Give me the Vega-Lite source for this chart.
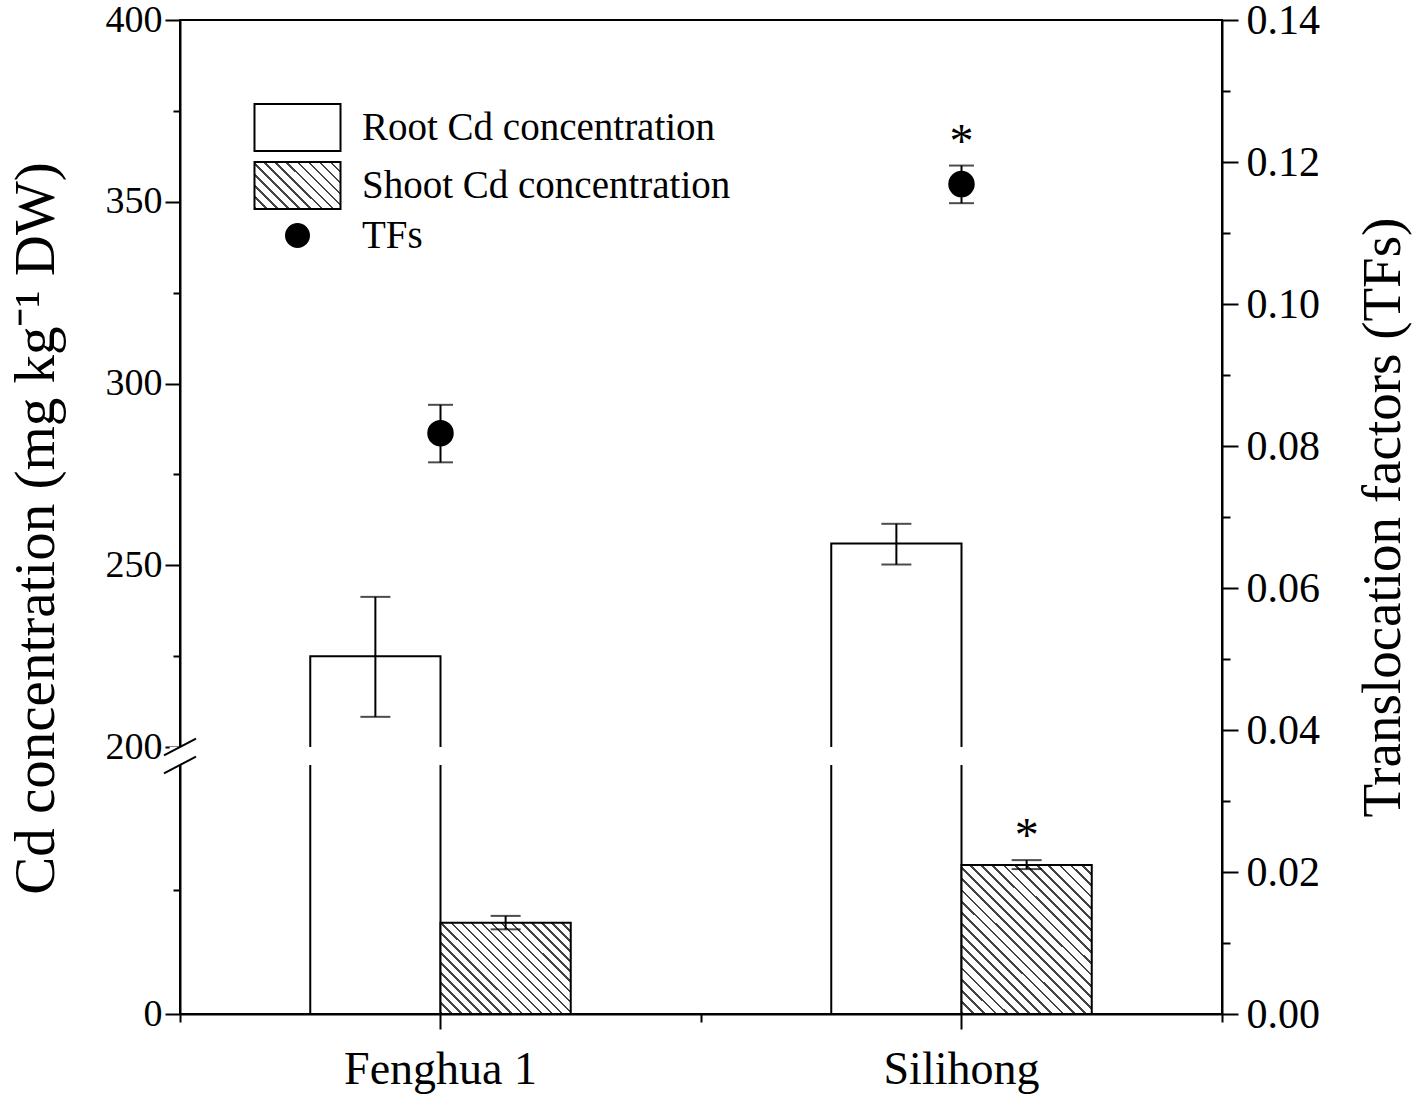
{
  "$schema": "https://vega.github.io/schema/vega-lite/v6.json",
  "width": 1042,
  "height": 994,
  "autosize": {"type": "none"},
  "padding": {"left": 180, "top": 20, "right": 196, "bottom": 82},
  "background": "white",
  "config": {
    "font": "Liberation Serif",
    "view": {"stroke": "black", "strokeWidth": 2},
    "axis": {"domainColor": "black", "tickColor": "black", "labelColor": "black", "titleColor": "black", "domainWidth": 2, "tickWidth": 2, "grid": false, "labelFont": "Liberation Serif", "titleFont": "Liberation Serif", "titleFontWeight": "normal"},
    "legend": {"labelFont": "Liberation Serif", "labelColor": "black"}
  },
  "datasets": {
    "cd": [
      {"cultivar": "Fenghua 1", "part": "Root", "mean": 225, "lo": 208.3, "hi": 241.3, "sig": ""},
      {"cultivar": "Fenghua 1", "part": "Shoot", "mean": 18.3, "lo": 17.0, "hi": 19.7, "sig": ""},
      {"cultivar": "Silihong", "part": "Root", "mean": 256, "lo": 250.2, "hi": 261.4, "sig": ""},
      {"cultivar": "Silihong", "part": "Shoot", "mean": 29.9, "lo": 29.1, "hi": 30.9, "sig": "*"}
    ],
    "tf": [
      {"cultivar": "Fenghua 1", "series": "TFs", "tf": 0.0818, "lo": 0.0777, "hi": 0.0858, "sig": ""},
      {"cultivar": "Silihong", "series": "TFs", "tf": 0.1169, "lo": 0.1142, "hi": 0.1195, "sig": "*"}
    ],
    "brk": [{"from": 50, "to": 200}]
  },
  "layer": [
    {
      "data": {"name": "cd"},
      "transform": [{"filter": "datum.part === 'Root'"}],
      "mark": {"type": "bar", "fill": "white", "stroke": "black", "strokeWidth": 2},
      "encoding": {
        "x": {"field": "cultivar", "type": "nominal", "scale": {"domain": ["Fenghua 1", "Silihong"], "paddingInner": 0, "paddingOuter": 0},
              "axis": {"orient": "bottom", "title": null, "labelFontSize": 46, "labelAngle": 0, "labelLimit": 1000, "tickSize": 15, "labelPadding": 18, "zindex": 1}},
        "xOffset": {"field": "part", "type": "nominal", "scale": {"domain": ["Root", "Shoot"], "paddingInner": 0, "paddingOuter": 1}},
        "y": {"field": "mean", "type": "quantitative", "scale": {"domain": [0, 50, 200, 400], "range": [994, 745, 727, 0], "nice": false, "zero": false},
              "axis": {"orient": "left", "values": [0, 200, 250, 300, 350, 400], "title": "Cd concentration (mg kg⁻¹ DW)", "titleFontSize": 57, "titleY": 508, "labelFontSize": 38, "tickSize": 15, "labelPadding": 3, "titlePadding": 40, "zindex": 0}}
      }
    },
    {
      "data": {"name": "cd"},
      "transform": [{"filter": "datum.part === 'Shoot' && datum.cultivar === 'Fenghua 1'"}],
      "mark": {"type": "bar", "stroke": "black", "strokeWidth": 2,
        "fill": {"gradient": "linear", "x1": 0, "y1": 1, "x2": 1.296, "y2": 0.092, "stops": [
{"offset":0,"color":"#444"},{"offset":0.01,"color":"#444"},{"offset":0.01,"color":"#fff"},{"offset":0.04,"color":"#fff"},
{"offset":0.04,"color":"#444"},{"offset":0.05,"color":"#444"},{"offset":0.05,"color":"#fff"},{"offset":0.08,"color":"#fff"},
{"offset":0.08,"color":"#444"},{"offset":0.09,"color":"#444"},{"offset":0.09,"color":"#fff"},{"offset":0.12,"color":"#fff"},
{"offset":0.12,"color":"#444"},{"offset":0.13,"color":"#444"},{"offset":0.13,"color":"#fff"},{"offset":0.16,"color":"#fff"},
{"offset":0.16,"color":"#444"},{"offset":0.17,"color":"#444"},{"offset":0.17,"color":"#fff"},{"offset":0.2,"color":"#fff"},
{"offset":0.2,"color":"#444"},{"offset":0.21,"color":"#444"},{"offset":0.21,"color":"#fff"},{"offset":0.24,"color":"#fff"},
{"offset":0.24,"color":"#444"},{"offset":0.25,"color":"#444"},{"offset":0.25,"color":"#fff"},{"offset":0.28,"color":"#fff"},
{"offset":0.28,"color":"#444"},{"offset":0.29,"color":"#444"},{"offset":0.29,"color":"#fff"},{"offset":0.32,"color":"#fff"},
{"offset":0.32,"color":"#444"},{"offset":0.33,"color":"#444"},{"offset":0.33,"color":"#fff"},{"offset":0.36,"color":"#fff"},
{"offset":0.36,"color":"#444"},{"offset":0.37,"color":"#444"},{"offset":0.37,"color":"#fff"},{"offset":0.4,"color":"#fff"},
{"offset":0.4,"color":"#444"},{"offset":0.41,"color":"#444"},{"offset":0.41,"color":"#fff"},{"offset":0.44,"color":"#fff"},
{"offset":0.44,"color":"#444"},{"offset":0.45,"color":"#444"},{"offset":0.45,"color":"#fff"},{"offset":0.48,"color":"#fff"},
{"offset":0.48,"color":"#444"},{"offset":0.49,"color":"#444"},{"offset":0.49,"color":"#fff"},{"offset":0.52,"color":"#fff"},
{"offset":0.52,"color":"#444"},{"offset":0.53,"color":"#444"},{"offset":0.53,"color":"#fff"},{"offset":0.56,"color":"#fff"},
{"offset":0.56,"color":"#444"},{"offset":0.57,"color":"#444"},{"offset":0.57,"color":"#fff"},{"offset":0.6,"color":"#fff"},
{"offset":0.6,"color":"#444"},{"offset":0.61,"color":"#444"},{"offset":0.61,"color":"#fff"},{"offset":0.64,"color":"#fff"},
{"offset":0.64,"color":"#444"},{"offset":0.65,"color":"#444"},{"offset":0.65,"color":"#fff"},{"offset":0.68,"color":"#fff"},
{"offset":0.68,"color":"#444"},{"offset":0.69,"color":"#444"},{"offset":0.69,"color":"#fff"},{"offset":0.72,"color":"#fff"},
{"offset":0.72,"color":"#444"},{"offset":0.73,"color":"#444"},{"offset":0.73,"color":"#fff"},{"offset":0.76,"color":"#fff"},
{"offset":0.76,"color":"#444"},{"offset":0.77,"color":"#444"},{"offset":0.77,"color":"#fff"},{"offset":0.8,"color":"#fff"},
{"offset":0.8,"color":"#444"},{"offset":0.81,"color":"#444"},{"offset":0.81,"color":"#fff"},{"offset":0.84,"color":"#fff"},
{"offset":0.84,"color":"#444"},{"offset":0.85,"color":"#444"},{"offset":0.85,"color":"#fff"},{"offset":0.88,"color":"#fff"},
{"offset":0.88,"color":"#444"},{"offset":0.89,"color":"#444"},{"offset":0.89,"color":"#fff"},{"offset":0.92,"color":"#fff"},
{"offset":0.92,"color":"#444"},{"offset":0.93,"color":"#444"},{"offset":0.93,"color":"#fff"},{"offset":0.96,"color":"#fff"},
{"offset":0.96,"color":"#444"},{"offset":0.97,"color":"#444"},{"offset":0.97,"color":"#fff"},{"offset":1,"color":"#fff"}
        ]}},
      "encoding": {
        "x": {"field": "cultivar", "type": "nominal", "scale": {"domain": ["Fenghua 1", "Silihong"], "paddingInner": 0, "paddingOuter": 0}, "axis": null},
        "xOffset": {"field": "part", "type": "nominal", "scale": {"domain": ["Root", "Shoot"], "paddingInner": 0, "paddingOuter": 1}},
        "y": {"field": "mean", "type": "quantitative", "scale": {"domain": [0, 50, 200, 400], "range": [994, 745, 727, 0], "nice": false, "zero": false}, "axis": null}
      }
    },
    {
      "data": {"name": "cd"},
      "transform": [{"filter": "datum.part === 'Shoot' && datum.cultivar === 'Silihong'"}],
      "mark": {"type": "bar", "stroke": "black", "strokeWidth": 2,
        "fill": {"gradient": "linear", "x1": 0, "y1": 1, "x2": 0.927, "y2": -0.063, "stops": [
{"offset":0,"color":"#444"},{"offset":0.01,"color":"#444"},{"offset":0.01,"color":"#fff"},{"offset":0.04,"color":"#fff"},
{"offset":0.04,"color":"#444"},{"offset":0.05,"color":"#444"},{"offset":0.05,"color":"#fff"},{"offset":0.08,"color":"#fff"},
{"offset":0.08,"color":"#444"},{"offset":0.09,"color":"#444"},{"offset":0.09,"color":"#fff"},{"offset":0.12,"color":"#fff"},
{"offset":0.12,"color":"#444"},{"offset":0.13,"color":"#444"},{"offset":0.13,"color":"#fff"},{"offset":0.16,"color":"#fff"},
{"offset":0.16,"color":"#444"},{"offset":0.17,"color":"#444"},{"offset":0.17,"color":"#fff"},{"offset":0.2,"color":"#fff"},
{"offset":0.2,"color":"#444"},{"offset":0.21,"color":"#444"},{"offset":0.21,"color":"#fff"},{"offset":0.24,"color":"#fff"},
{"offset":0.24,"color":"#444"},{"offset":0.25,"color":"#444"},{"offset":0.25,"color":"#fff"},{"offset":0.28,"color":"#fff"},
{"offset":0.28,"color":"#444"},{"offset":0.29,"color":"#444"},{"offset":0.29,"color":"#fff"},{"offset":0.32,"color":"#fff"},
{"offset":0.32,"color":"#444"},{"offset":0.33,"color":"#444"},{"offset":0.33,"color":"#fff"},{"offset":0.36,"color":"#fff"},
{"offset":0.36,"color":"#444"},{"offset":0.37,"color":"#444"},{"offset":0.37,"color":"#fff"},{"offset":0.4,"color":"#fff"},
{"offset":0.4,"color":"#444"},{"offset":0.41,"color":"#444"},{"offset":0.41,"color":"#fff"},{"offset":0.44,"color":"#fff"},
{"offset":0.44,"color":"#444"},{"offset":0.45,"color":"#444"},{"offset":0.45,"color":"#fff"},{"offset":0.48,"color":"#fff"},
{"offset":0.48,"color":"#444"},{"offset":0.49,"color":"#444"},{"offset":0.49,"color":"#fff"},{"offset":0.52,"color":"#fff"},
{"offset":0.52,"color":"#444"},{"offset":0.53,"color":"#444"},{"offset":0.53,"color":"#fff"},{"offset":0.56,"color":"#fff"},
{"offset":0.56,"color":"#444"},{"offset":0.57,"color":"#444"},{"offset":0.57,"color":"#fff"},{"offset":0.6,"color":"#fff"},
{"offset":0.6,"color":"#444"},{"offset":0.61,"color":"#444"},{"offset":0.61,"color":"#fff"},{"offset":0.64,"color":"#fff"},
{"offset":0.64,"color":"#444"},{"offset":0.65,"color":"#444"},{"offset":0.65,"color":"#fff"},{"offset":0.68,"color":"#fff"},
{"offset":0.68,"color":"#444"},{"offset":0.69,"color":"#444"},{"offset":0.69,"color":"#fff"},{"offset":0.72,"color":"#fff"},
{"offset":0.72,"color":"#444"},{"offset":0.73,"color":"#444"},{"offset":0.73,"color":"#fff"},{"offset":0.76,"color":"#fff"},
{"offset":0.76,"color":"#444"},{"offset":0.77,"color":"#444"},{"offset":0.77,"color":"#fff"},{"offset":0.8,"color":"#fff"},
{"offset":0.8,"color":"#444"},{"offset":0.81,"color":"#444"},{"offset":0.81,"color":"#fff"},{"offset":0.84,"color":"#fff"},
{"offset":0.84,"color":"#444"},{"offset":0.85,"color":"#444"},{"offset":0.85,"color":"#fff"},{"offset":0.88,"color":"#fff"},
{"offset":0.88,"color":"#444"},{"offset":0.89,"color":"#444"},{"offset":0.89,"color":"#fff"},{"offset":0.92,"color":"#fff"},
{"offset":0.92,"color":"#444"},{"offset":0.93,"color":"#444"},{"offset":0.93,"color":"#fff"},{"offset":0.96,"color":"#fff"},
{"offset":0.96,"color":"#444"},{"offset":0.97,"color":"#444"},{"offset":0.97,"color":"#fff"},{"offset":1,"color":"#fff"}
        ]}},
      "encoding": {
        "x": {"field": "cultivar", "type": "nominal", "scale": {"domain": ["Fenghua 1", "Silihong"], "paddingInner": 0, "paddingOuter": 0}, "axis": null},
        "xOffset": {"field": "part", "type": "nominal", "scale": {"domain": ["Root", "Shoot"], "paddingInner": 0, "paddingOuter": 1}},
        "y": {"field": "mean", "type": "quantitative", "scale": {"domain": [0, 50, 200, 400], "range": [994, 745, 727, 0], "nice": false, "zero": false}, "axis": null}
      }
    },
    {
      "data": {"name": "cd"},
      "mark": {"type": "rule", "color": "black", "strokeWidth": 2},
      "encoding": {
        "x": {"field": "cultivar", "type": "nominal", "scale": {"domain": ["Fenghua 1", "Silihong"], "paddingInner": 0, "paddingOuter": 0}, "axis": null},
        "xOffset": {"field": "part", "type": "nominal", "scale": {"domain": ["Root", "Shoot"], "paddingInner": 0, "paddingOuter": 1}},
        "y": {"field": "lo", "type": "quantitative", "scale": {"domain": [0, 50, 200, 400], "range": [994, 745, 727, 0], "nice": false, "zero": false}, "axis": null},
        "y2": {"field": "hi"}
      }
    },
    {
      "data": {"name": "cd"},
      "mark": {"type": "tick", "color": "black", "size": 30, "thickness": 2},
      "encoding": {
        "x": {"field": "cultivar", "type": "nominal", "scale": {"domain": ["Fenghua 1", "Silihong"], "paddingInner": 0, "paddingOuter": 0}, "axis": null},
        "xOffset": {"field": "part", "type": "nominal", "scale": {"domain": ["Root", "Shoot"], "paddingInner": 0, "paddingOuter": 1}},
        "y": {"field": "lo", "type": "quantitative", "scale": {"domain": [0, 50, 200, 400], "range": [994, 745, 727, 0], "nice": false, "zero": false}, "axis": null}
      }
    },
    {
      "data": {"name": "cd"},
      "mark": {"type": "tick", "color": "black", "size": 30, "thickness": 2},
      "encoding": {
        "x": {"field": "cultivar", "type": "nominal", "scale": {"domain": ["Fenghua 1", "Silihong"], "paddingInner": 0, "paddingOuter": 0}, "axis": null},
        "xOffset": {"field": "part", "type": "nominal", "scale": {"domain": ["Root", "Shoot"], "paddingInner": 0, "paddingOuter": 1}},
        "y": {"field": "hi", "type": "quantitative", "scale": {"domain": [0, 50, 200, 400], "range": [994, 745, 727, 0], "nice": false, "zero": false}, "axis": null}
      }
    },
    {
      "data": {"name": "cd"},
      "transform": [{"filter": "datum.sig === '*'"}],
      "mark": {"type": "text", "fontSize": 48, "font": "Liberation Serif", "baseline": "alphabetic", "dy": -9, "color": "black"},
      "encoding": {
        "x": {"field": "cultivar", "type": "nominal", "scale": {"domain": ["Fenghua 1", "Silihong"], "paddingInner": 0, "paddingOuter": 0}, "axis": null},
        "xOffset": {"field": "part", "type": "nominal", "scale": {"domain": ["Root", "Shoot"], "paddingInner": 0, "paddingOuter": 1}},
        "y": {"field": "hi", "type": "quantitative", "scale": {"domain": [0, 50, 200, 400], "range": [994, 745, 727, 0], "nice": false, "zero": false}, "axis": null},
        "text": {"field": "sig"}
      }
    },
    {
      "data": {"name": "brk"},
      "mark": {"type": "rect", "fill": "white", "strokeWidth": 0},
      "encoding": {
        "x": {"datum": -0.02, "type": "quantitative", "scale": {"domain": [0, 2], "nice": false, "zero": false},
              "axis": {"orient": "bottom", "values": [0, 1, 2], "tickSize": 8, "labels": false, "domain": false, "title": null, "zindex": 1}},
        "x2": {"datum": 1.9},
        "y": {"field": "from", "type": "quantitative", "scale": {"domain": [0, 50, 200, 400], "range": [994, 745, 727, 0], "nice": false, "zero": false},
              "axis": {"orient": "left", "values": [25, 225, 275, 325, 375], "tickSize": 7, "labels": false, "domain": false, "title": null, "zindex": 0}},
        "y2": {"field": "to"}
      }
    },
    {
      "data": {"name": "brk"},
      "transform": [{"fold": ["from", "to"], "as": ["edge", "value"]}],
      "mark": {"type": "point", "shape": "M-1,0.53L1,-0.53", "size": 1024, "filled": false, "stroke": "black", "strokeWidth": 2, "opacity": 1},
      "encoding": {
        "x": {"datum": 0, "type": "quantitative", "scale": {"domain": [0, 2], "nice": false, "zero": false}, "axis": null},
        "y": {"field": "value", "type": "quantitative", "scale": {"domain": [0, 50, 200, 400], "range": [994, 745, 727, 0], "nice": false, "zero": false}, "axis": null}
      }
    },
    {
      "data": {"name": "tf"},
      "mark": {"type": "point", "filled": true, "size": 600, "strokeWidth": 2, "opacity": 1},
      "encoding": {
        "x": {"field": "cultivar", "type": "nominal", "scale": {"domain": ["Fenghua 1", "Silihong"], "paddingInner": 0, "paddingOuter": 0}, "axis": null},
        "y": {"field": "tf", "type": "quantitative", "scale": {"domain": [0, 0.14], "nice": false, "zero": false},
              "axis": {"orient": "right", "values": [0, 0.02, 0.04, 0.06, 0.08, 0.1, 0.12, 0.14], "format": ".2f", "title": "Translocation factors (TFs)", "titleFontSize": 55, "labelFontSize": 42, "tickSize": 16, "labelPadding": 8, "titleAngle": 270, "titleBaseline": "top", "titlePadding": 37, "zindex": 1}},
        "fill": {"field": "series", "type": "nominal",
          "scale": {"domain": ["Root Cd concentration", "Shoot Cd concentration", "TFs"],
            "range": ["white", {"expr": "{gradient: 'linear', x1: 0, y1: 1, x2: 1.19, y2: 0.349, stops: [{offset: 0, color: '#444'}, {offset: 0.02, color: '#444'}, {offset: 0.02, color: '#fff'}, {offset: 0.0833, color: '#fff'}, {offset: 0.0833, color: '#444'}, {offset: 0.1033, color: '#444'}, {offset: 0.1033, color: '#fff'}, {offset: 0.1667, color: '#fff'}, {offset: 0.1667, color: '#444'}, {offset: 0.1867, color: '#444'}, {offset: 0.1867, color: '#fff'}, {offset: 0.25, color: '#fff'}, {offset: 0.25, color: '#444'}, {offset: 0.27, color: '#444'}, {offset: 0.27, color: '#fff'}, {offset: 0.3333, color: '#fff'}, {offset: 0.3333, color: '#444'}, {offset: 0.3533, color: '#444'}, {offset: 0.3533, color: '#fff'}, {offset: 0.4167, color: '#fff'}, {offset: 0.4167, color: '#444'}, {offset: 0.4367, color: '#444'}, {offset: 0.4367, color: '#fff'}, {offset: 0.5, color: '#fff'}, {offset: 0.5, color: '#444'}, {offset: 0.52, color: '#444'}, {offset: 0.52, color: '#fff'}, {offset: 0.5833, color: '#fff'}, {offset: 0.5833, color: '#444'}, {offset: 0.6033, color: '#444'}, {offset: 0.6033, color: '#fff'}, {offset: 0.6667, color: '#fff'}, {offset: 0.6667, color: '#444'}, {offset: 0.6867, color: '#444'}, {offset: 0.6867, color: '#fff'}, {offset: 0.75, color: '#fff'}, {offset: 0.75, color: '#444'}, {offset: 0.77, color: '#444'}, {offset: 0.77, color: '#fff'}, {offset: 0.8333, color: '#fff'}, {offset: 0.8333, color: '#444'}, {offset: 0.8533, color: '#444'}, {offset: 0.8533, color: '#fff'}, {offset: 0.9167, color: '#fff'}, {offset: 0.9167, color: '#444'}, {offset: 0.9367, color: '#444'}, {offset: 0.9367, color: '#fff'}, {offset: 1, color: '#fff'}]}"}, "black"]}
        },
        "stroke": {"field": "series", "type": "nominal",
          "scale": {"domain": ["Root Cd concentration", "Shoot Cd concentration", "TFs"], "range": ["black", "black", "black"]}
        },
        "shape": {"field": "series", "type": "nominal",
          "scale": {"domain": ["Root Cd concentration", "Shoot Cd concentration", "TFs"], "range": ["M-3.74,-2.04H3.74V2.04H-3.74Z", "M-3.74,-2.04H3.74V2.04H-3.74Z", "circle"]},
          "legend": {"orient": "none", "legendX": 98, "legendY": 88, "title": null, "labelFontSize": 39, "labelLimit": 1000, "symbolSize": 529, "labelOffset": 45, "rowPadding": 3, "symbolStrokeWidth": 2}
        }
      }
    },
    {
      "data": {"name": "tf"},
      "mark": {"type": "tick", "color": "black", "size": 25, "thickness": 2},
      "encoding": {
        "x": {"field": "cultivar", "type": "nominal", "scale": {"domain": ["Fenghua 1", "Silihong"], "paddingInner": 0, "paddingOuter": 0}, "axis": null},
        "y": {"field": "lo", "type": "quantitative", "scale": {"domain": [0, 0.14], "nice": false, "zero": false}, "axis": null}
      }
    },
    {
      "data": {"name": "tf"},
      "mark": {"type": "tick", "color": "black", "size": 25, "thickness": 2},
      "encoding": {
        "x": {"field": "cultivar", "type": "nominal", "scale": {"domain": ["Fenghua 1", "Silihong"], "paddingInner": 0, "paddingOuter": 0}, "axis": null},
        "y": {"field": "hi", "type": "quantitative", "scale": {"domain": [0, 0.14], "nice": false, "zero": false}, "axis": null}
      }
    },
    {
      "data": {"name": "tf"},
      "transform": [{"filter": "datum.sig === '*'"}],
      "mark": {"type": "text", "fontSize": 48, "font": "Liberation Serif", "baseline": "alphabetic", "dy": -9, "color": "black"},
      "encoding": {
        "x": {"field": "cultivar", "type": "nominal", "scale": {"domain": ["Fenghua 1", "Silihong"], "paddingInner": 0, "paddingOuter": 0}, "axis": null},
        "y": {"field": "hi", "type": "quantitative", "scale": {"domain": [0, 0.14], "nice": false, "zero": false}, "axis": null},
        "text": {"field": "sig"}
      }
    },
    {
      "data": {"name": "tf"},
      "mark": {"type": "rule", "color": "black", "strokeWidth": 2},
      "encoding": {
        "x": {"field": "cultivar", "type": "nominal", "scale": {"domain": ["Fenghua 1", "Silihong"], "paddingInner": 0, "paddingOuter": 0}, "axis": null},
        "y": {"field": "lo", "type": "quantitative", "scale": {"domain": [0, 0.14], "nice": false, "zero": false},
              "axis": {"orient": "right", "values": [0.01, 0.03, 0.05, 0.07, 0.09, 0.11, 0.13], "tickSize": 8, "labels": false, "domain": false, "title": null, "zindex": 1}},
        "y2": {"field": "hi"}
      }
    }
  ],
  "resolve": {"scale": {"x": "independent", "y": "independent"}}
}
